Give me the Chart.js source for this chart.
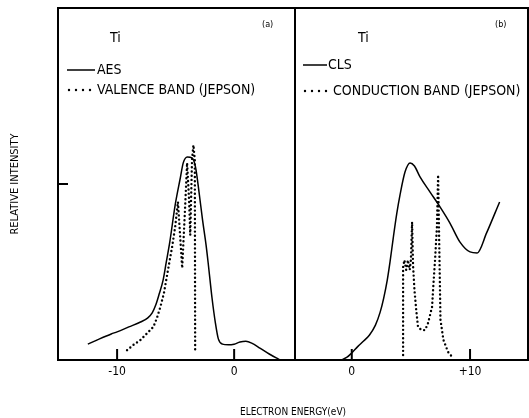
<!DOCTYPE html>
<html><head><meta charset="utf-8">
<script src="https://cdn.jsdelivr.net/npm/chart.js@4"></script>
<style>html,body{margin:0;padding:0;background:#fff;overflow:hidden}canvas{display:block}</style>
</head><body>
<canvas id="c" width="529" height="418"></canvas>
<script>
// ---- Panel (a) : AES vs valence band (Jepson) ----
const aesEnergy = [-12.5,-11.5,-10.5,-10,-9,-8,-7.4,-7.0,-6.7,-6.4,-6.07,-5.8,-5.5,-5.04,-4.6,-4.35,-4.0,-3.6,-3.3,-3.0,-2.7,-2.4,-2.2,-1.9,-1.6,-1.35,-1.0,-0.5,0,0.5,1.0,1.5,2.2,3.0,3.6,4.0,5.2];
const aesIntensity = [4.5,6.0,7.4,8.0,9.4,10.8,11.9,13.4,15.6,18.8,22.7,27.8,33.5,44.0,51.7,56.0,57.7,57.4,54.8,47.7,39.8,32.7,27.0,17.9,10.5,6.0,4.5,4.3,4.5,5.1,5.3,4.8,3.4,1.7,0.6,0,0];
const valenceEnergy = [-9.15,-8.6,-8.0,-7.4,-6.9,-6.6,-6.3,-6.0,-5.73,-5.5,-5.3,-5.04,-4.8,-4.62,-4.44,-4.2,-4.02,-3.85,-3.75,-3.6,-3.48,-3.36,-3.33];
const valenceIntensity = [2.8,4.3,5.7,7.7,9.4,11.9,15.1,19.0,24.1,28.4,32.1,37.8,44.9,35.5,26.1,42.6,56.0,45.5,35.5,56.8,61.1,56.8,2.0];
// ---- Panel (b) : CLS vs conduction band (Jepson) ----
const clsEnergy = [-4.8,-1.0,-0.4,0,0.5,1.0,1.5,2.0,2.4,2.7,3.0,3.24,3.5,3.8,4.08,4.5,4.93,5.3,5.77,6.62,7.46,8.3,9.15,10.0,10.6,11.4,12.5];
const clsIntensity = [0,0,0.8,2.0,3.8,5.4,7.1,9.9,13.6,17.6,22.7,28.0,34.5,41.5,46.9,53.4,56.0,55.1,52.0,47.7,43.5,38.9,33.5,30.7,30.4,36.1,44.9];
const conductionEnergy = [4.34,4.34,4.45,4.6,4.75,4.9,5.0,5.1,5.18,5.3,5.45,5.6,5.9,6.2,6.45,6.79,6.9,7.04,7.2,7.3,7.5,7.75,8.14,8.56];
const conductionIntensity = [1.4,26.4,28.4,25.6,28.4,25.6,28.4,39.2,27.0,19.9,14.2,9.4,8.5,8.5,10.5,15.1,21.3,28.4,37.8,52.6,11.4,5.7,2.3,0.6];
// ---- axes ----
const rangeA = [-15.05, 5.2];
const rangeB = [-4.8, 14.9];
const ticksA = [-10, 0];
const tickLabelsA = ['-10', '0'];
const ticksB = [0, 10];
const tickLabelsB = ['0', '+10'];
const yRange = [0, 100];
const yTicks = [50];
const labels = {
  aes: 'AES', valence: 'VALENCE BAND (JEPSON)',
  cls: 'CLS', conduction: 'CONDUCTION BAND (JEPSON)',
  element: 'Ti', tagA: '(a)', tagB: '(b)',
  xTitle: 'ELECTRON ENERGY(eV)', yTitle: 'RELATIVE INTENSITY'
};

const FONT = '"DejaVu Sans Condensed", "DejaVu Sans", sans-serif';
const pts = (xs, ys) => xs.map((x, i) => ({x, y: ys[i]}));
const solid = {borderColor: '#000', borderWidth: 1.5, pointRadius: 0, fill: false, cubicInterpolationMode: 'monotone'};
const dotted = {borderColor: '#000', borderWidth: 2.4, pointRadius: 0, fill: false, tension: 0, borderDash: [0, 4.2], borderCapStyle: 'round'};

const panelPlugin = {
  id: 'panels',
  afterDatasetsDraw(chart) {
    const ctx = chart.ctx, area = chart.chartArea, ys = chart.scales.y;
    ctx.save();
    ctx.strokeStyle = '#000'; ctx.fillStyle = '#000';
    ctx.lineWidth = 2;
    ['x1', 'x2'].forEach(id => {
      const s = chart.scales[id];
      ctx.strokeRect(s.left, area.top, s.right - s.left, area.bottom - area.top);
      s.ticks.forEach(t => {
        const px = s.getPixelForValue(t.value);
        ctx.beginPath(); ctx.moveTo(px, area.bottom); ctx.lineTo(px, area.bottom - 11); ctx.stroke();
      });
    });
    ys.ticks.forEach(t => {
      const py = ys.getPixelForValue(t.value);
      ctx.beginPath(); ctx.moveTo(area.left, py); ctx.lineTo(area.left + 10, py); ctx.stroke();
    });
    // in-panel legends
    const legends = [
      {id: 'x1', ti: 52, tag: labels.tagA, items: [[0, 70, 9, 37, 39], [1, 90, 11, 33, 39]]},
      {id: 'x2', ti: 63, tag: labels.tagB, items: [[2, 65, 8, 32, 33], [3, 91, 10, 32, 38]]}
    ];
    legends.forEach(L => {
      const s = chart.scales[L.id];
      ctx.textBaseline = 'middle'; ctx.textAlign = 'left';
      ctx.font = '14px ' + FONT;
      ctx.fillText(labels.element, s.left + L.ti, area.top + 30);
      ctx.font = '9px ' + FONT;
      ctx.fillText(L.tag, s.right - 33, area.top + 17);
      L.items.forEach(([di, y, x0, x1, tx]) => {
        const ds = chart.data.datasets[di];
        ctx.save();
        ctx.lineWidth = ds.borderWidth;
        if (ds.borderDash) { ctx.setLineDash([0, 7]); ctx.lineCap = 'round'; }
        ctx.beginPath(); ctx.moveTo(s.left + x0, y); ctx.lineTo(s.left + x1, y); ctx.stroke();
        ctx.restore();
        ctx.font = '14px ' + FONT;
        ctx.fillText(ds.label, s.left + tx, y);
      });
    });
    ctx.restore();
  }
};

new Chart(document.getElementById('c'), {
  type: 'line',
  data: {
    datasets: [
      Object.assign({label: labels.aes, data: pts(aesEnergy, aesIntensity), xAxisID: 'x1', yAxisID: 'y'}, solid),
      Object.assign({label: labels.valence, data: pts(valenceEnergy, valenceIntensity), xAxisID: 'x1', yAxisID: 'y'}, dotted),
      Object.assign({label: labels.cls, data: pts(clsEnergy, clsIntensity), xAxisID: 'x2', yAxisID: 'y'}, solid),
      Object.assign({label: labels.conduction, data: pts(conductionEnergy, conductionIntensity), xAxisID: 'x2', yAxisID: 'y'}, dotted)
    ]
  },
  options: {
    responsive: false, animation: false, devicePixelRatio: 1,
    layout: {padding: {top: 8, right: 1, left: 0, bottom: 0}},
    plugins: {
      legend: {display: false}, tooltip: {enabled: false},
      title: {display: true, text: labels.xTitle, position: 'bottom', fullSize: false, align: 'center',
        color: '#000', font: {family: FONT, size: 10, weight: 'normal'}, padding: {top: 10, bottom: 0}}
    },
    scales: {
      x1: {type: 'linear', position: 'bottom', stack: 'energy', stackWeight: 237, min: rangeA[0], max: rangeA[1],
        grid: {display: false}, border: {display: false},
        afterBuildTicks: s => { s.ticks = ticksA.map(v => ({value: v})); },
        afterFit: s => { s.height = 36; },
        ticks: {color: '#000', font: {family: FONT, size: 12}, padding: -3,
          callback: v => tickLabelsA[ticksA.indexOf(v)]}},
      x2: {type: 'linear', position: 'bottom', stack: 'energy', stackWeight: 233, min: rangeB[0], max: rangeB[1],
        grid: {display: false}, border: {display: false},
        afterBuildTicks: s => { s.ticks = ticksB.map(v => ({value: v})); },
        afterFit: s => { s.height = 36; },
        ticks: {color: '#000', font: {family: FONT, size: 12}, padding: -3,
          callback: v => tickLabelsB[ticksB.indexOf(v)]}},
      y: {type: 'linear', position: 'left', min: yRange[0], max: yRange[1],
        grid: {display: false}, border: {display: false},
        afterBuildTicks: s => { s.ticks = yTicks.map(v => ({value: v})); },
        afterFit: s => { s.width = 58; },
        ticks: {display: false},
        title: {display: true, text: labels.yTitle, color: '#000', font: {family: FONT, size: 11}, padding: {top: 9, bottom: 0}}}
    }
  },
  plugins: [panelPlugin]
});
</script>
</body></html>
